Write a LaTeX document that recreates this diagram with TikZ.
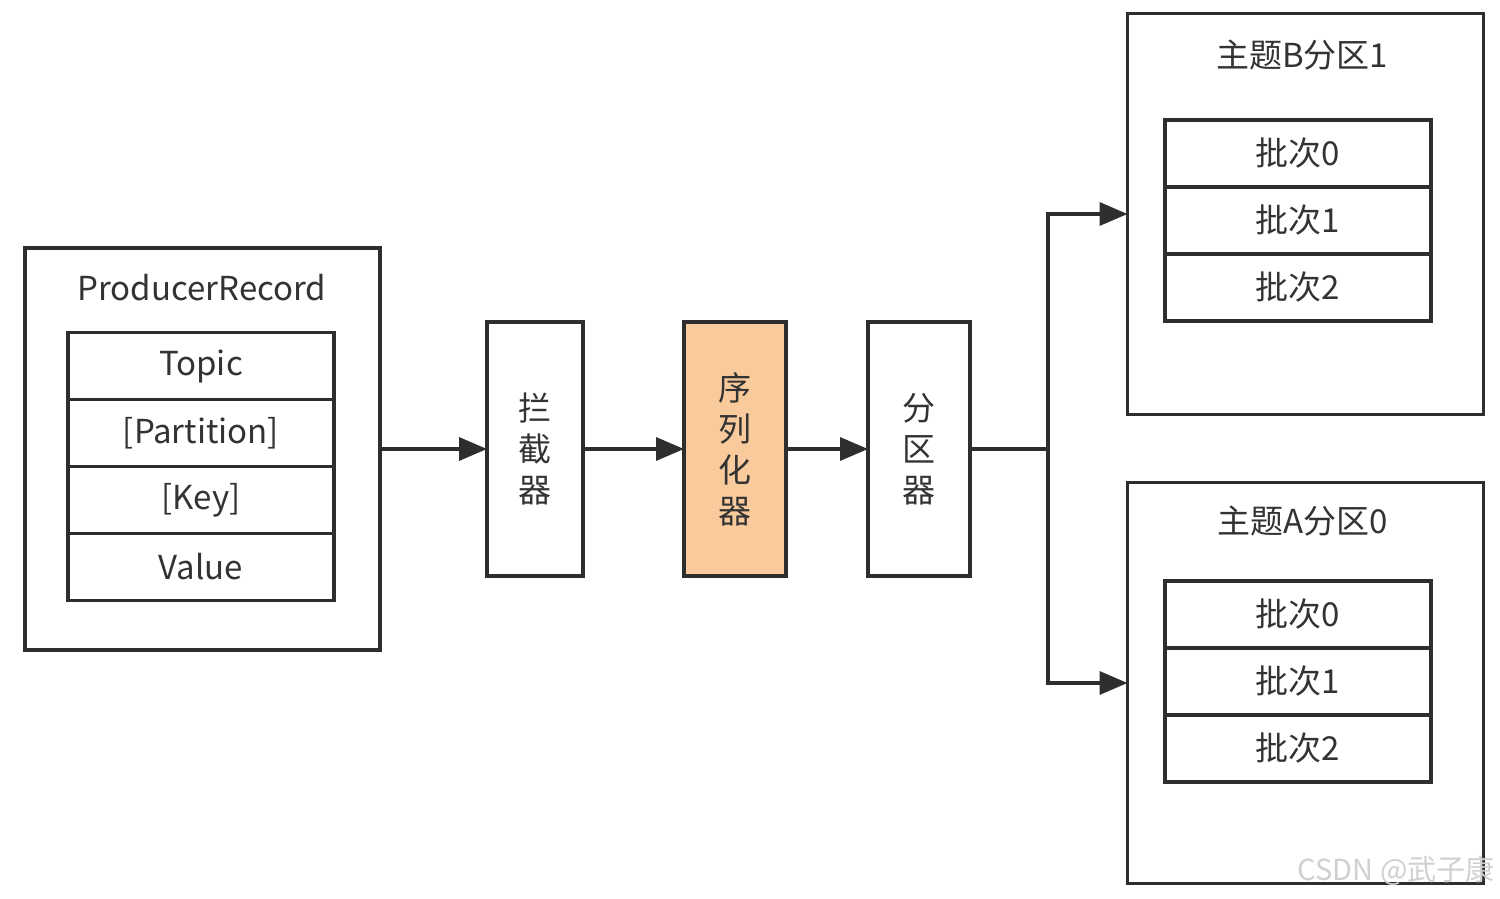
\documentclass[tikz,border=0pt]{standalone}
\usepackage{fontspec}
\setmainfont{Noto Sans CJK SC}
\usetikzlibrary{positioning}
\usetikzlibrary{arrows.meta}
\definecolor{linegray}{HTML}{2E2E2E}
\definecolor{textgray}{HTML}{333333}
\definecolor{serfill}{HTML}{F9CB9C}
\definecolor{markgray}{HTML}{D0D0D0}

\begin{document}
\begin{tikzpicture}[x=1pt,y=-1pt,
        line width=3.5pt,
        every node/.style = {text=textgray,font=\fontsize{33}{41}\selectfont},
        outerbox/.style = {draw=linegray,fill=white,outer sep=0pt,
            minimum width=356pt,minimum height=401pt},
        field/.style = {draw=linegray,outer sep=0pt,inner sep=0pt,
            minimum width=266pt,minimum height=67pt},
        stage/.style = {draw=linegray,outer sep=0pt,align=center,
            minimum height=254pt},
        flow/.style = {draw=linegray,-{Triangle[length=28pt,width=23pt]}},
        link/.style = {draw=linegray}]
    \useasboundingbox (0,0) rectangle (1500,899);
    % record
    \node[outerbox,minimum width=355pt,minimum height=402pt] (rec) at (202.5,449) {};
    \node (rectitle) at (202,288) {ProducerRecord};
    \node[field] (topic) at (201,366) {Topic};
    \node[field,below=0pt of topic] (partn) {[Partition]};
    \node[field,below=0pt of partn] (key) {[Key]};
    \node[field,below=0pt of key] (value) {Value};
    % stages
    \node[stage,minimum width=96pt] (icpt) at (535,449) {拦\\截\\器};
    \node[stage,minimum width=102pt,fill=serfill] (ser) at (735,449) {序\\列\\化\\器};
    \node[stage,minimum width=102pt] (parter) at (919,449) {分\\区\\器};
    % topic B partition 1
    \node[outerbox] (tb) at (1305.5,214) {};
    \node (tbtitle) at (1302,55) {主题B分区1};
    \node[field] (tb0) at (1298,153.5) {批次0};
    \node[field,below=0pt of tb0] (tb1) {批次1};
    \node[field,below=0pt of tb1] (tb2) {批次2};
    % topic A partition 0
    \node[outerbox] (ta) at (1305.5,683) {};
    \node (tatitle) at (1303,521) {主题A分区0};
    \node[field] (ta0) at (1298,614.5) {批次0};
    \node[field,below=0pt of ta0] (ta1) {批次1};
    \node[field,below=0pt of ta1] (ta2) {批次2};
    % connectors
    \coordinate (split) at (1048,449);
    \path[flow] (rec) -- (icpt);
    \path[flow] (icpt) -- (ser);
    \path[flow] (ser) -- (parter);
    \path[link] (parter) -- (split);
    \path[flow] (split) |- (tb.west);
    \path[flow] (split) |- (ta.west);
    \node[text=markgray,font=\fontsize{29}{32}\selectfont] (mark) at (1396,871) {CSDN @武子康};
\end{tikzpicture}
\end{document}
